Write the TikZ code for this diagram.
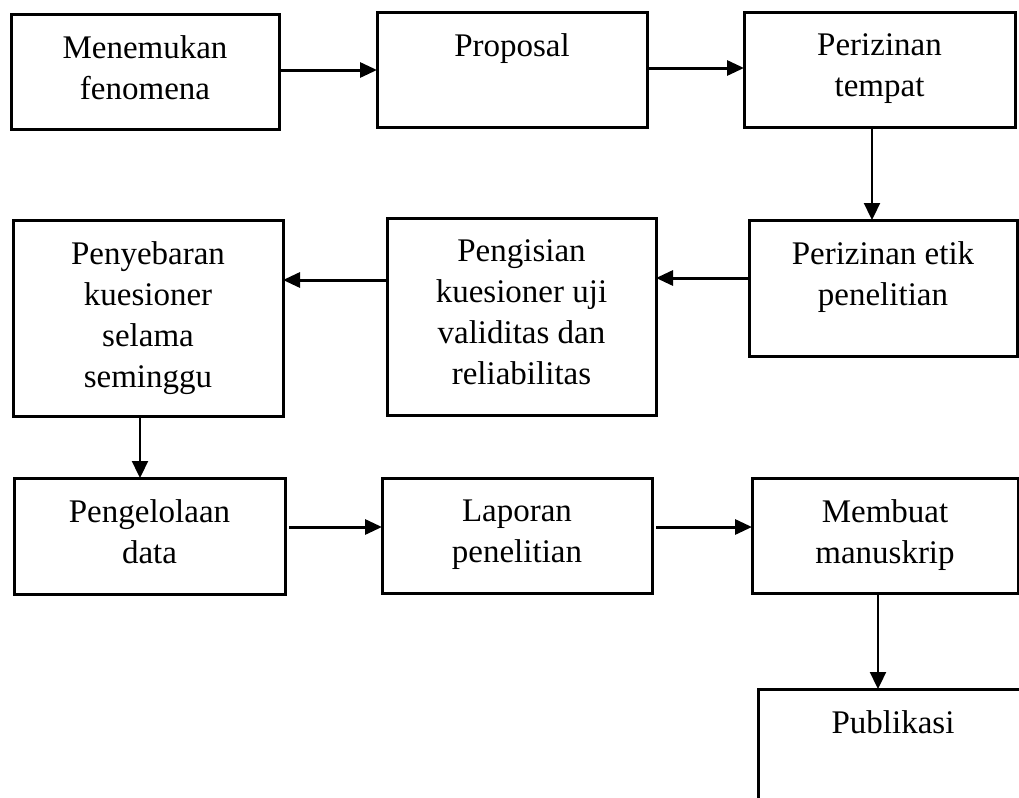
\documentclass[tikz,border=0pt]{standalone}
\usepackage{fontspec}
\setmainfont{Liberation Serif}
\usetikzlibrary{arrows.meta}
\begin{document}
\begin{tikzpicture}[x=0.5pt,y=-0.5pt,
 box/.style={draw, line width=1.5pt, rectangle, inner sep=0pt, outer sep=0pt},
 txt/.style={anchor=north, align=center, inner sep=0pt, font=\fontsize{16.5}{20.5}\selectfont},
 arr/.style={line width=1.5pt, -{Triangle[length=8.5pt,width=7.5pt]}},
 varr/.style={line width=1.15pt, -{Triangle[length=8.5pt,width=8pt]}}]
\useasboundingbox (0,0) rectangle (1019,798);
\clip (0,0) rectangle (1019,798);
% boxes
\node[box, minimum width=134pt, minimum height=57.5pt] (b1) at (145,71.5) {};
\node[box, minimum width=135pt, minimum height=57.5pt] (b2) at (512,69.5) {};
\node[box, minimum width=135.5pt, minimum height=57.5pt] (b3) at (879.5,69.5) {};
\node[box, minimum width=134pt, minimum height=68pt] (b4) at (883,288) {};
\node[box, minimum width=134.5pt, minimum height=98.5pt] (b5) at (521.5,316.5) {};
\node[box, minimum width=135pt, minimum height=98pt] (b6) at (148,318) {};
\node[box, minimum width=135.5pt, minimum height=58pt] (b7) at (149.5,536) {};
\node[box, minimum width=135pt, minimum height=57.5pt] (b8) at (517,535.5) {};
\node[box, minimum width=133pt, minimum height=57.5pt] (b9) at (885,535.5) {};
\node[box, minimum width=135pt, minimum height=70.5pt] (b10) at (893,759.5) {};
% texts
\node[txt] (t1) at ([yshift=-10.75pt]b1.north) {Menemukan\\fenomena};
\node[txt] (t2) at ([yshift=-10.75pt]b2.north) {Proposal};
\node[txt] (t3) at ([yshift=-10.75pt]b3.north) {Perizinan\\tempat};
\node[txt] (t4) at ([yshift=-10.75pt]b4.north) {Perizinan etik\\penelitian};
\node[txt] (t5) at ([yshift=-10.75pt]b5.north) {Pengisian\\kuesioner uji\\validitas dan\\reliabilitas};
\node[txt] (t6) at ([yshift=-10.75pt]b6.north) {Penyebaran\\kuesioner\\selama\\seminggu};
\node[txt] (t7) at ([yshift=-10.75pt]b7.north) {Pengelolaan\\data};
\node[txt] (t8) at ([yshift=-10.75pt]b8.north) {Laporan\\penelitian};
\node[txt] (t9) at ([yshift=-10.75pt]b9.north) {Membuat\\manuskrip};
\node[txt] (t10) at ([yshift=-10.75pt]b10.north) {Publikasi};
% connectors
\draw[arr] ([yshift=0.75pt]b1.east) -- ([yshift=0.75pt]b1.east -| b2.west);
\draw[arr] ([yshift=0.75pt]b2.east) -- ([yshift=0.75pt]b2.east -| b3.west);
\draw[varr] ([xshift=-3.75pt]b3.south) -- ([xshift=-3.75pt]b3.south |- b4.north);
\draw[arr] ([yshift=5pt]b4.west) -- ([yshift=5pt]b4.west -| b5.east);
\draw[arr] ([yshift=18.25pt]b5.west) -- ([yshift=18.25pt]b5.west -| b6.east);
\draw[varr] ([xshift=-4pt]b6.south) -- ([xshift=-4pt]b6.south |- b7.north);
\draw[arr] ([yshift=4.5pt,xshift=2pt]b7.east) -- ([yshift=4.5pt]b7.east -| b8.west);
\draw[arr] ([yshift=4.25pt,xshift=2pt]b8.east) -- ([yshift=4.25pt]b8.east -| b9.west);
\draw[varr] ([xshift=-3.5pt]b9.south) -- ([xshift=-3.5pt]b9.south |- b10.north);
\end{tikzpicture}
\end{document}
